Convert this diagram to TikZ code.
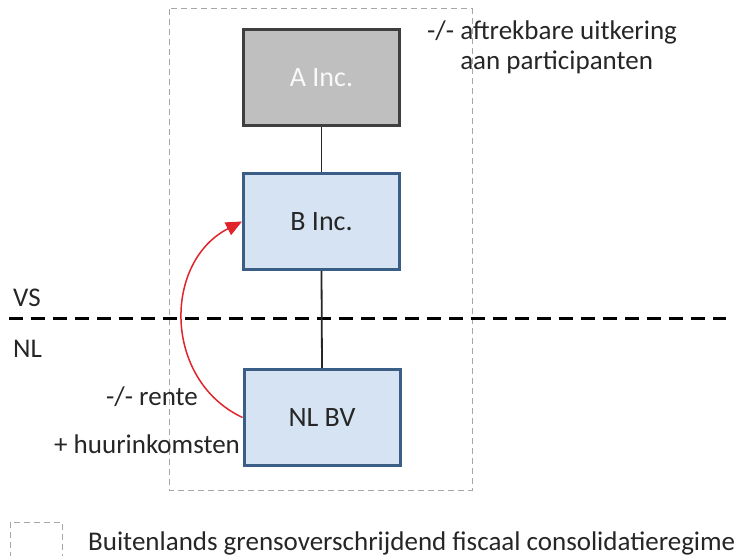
\documentclass[tikz,border=0pt]{standalone}
\usepackage{fontspec}
\setmainfont{Carlito}
\usetikzlibrary{arrows.meta}
\definecolor{txt}{HTML}{262626}
\definecolor{agray}{HTML}{BFBFBF}
\definecolor{aborder}{HTML}{3F3F3F}
\definecolor{bfill}{HTML}{D5E3F3}
\definecolor{bborder}{HTML}{3B5E86}
\definecolor{regred}{HTML}{E0242B}
\definecolor{boxdash}{HTML}{A6A6A6}
\tikzset{
  entity/.style={draw, line width=3pt, minimum width=156pt, minimum height=96pt, inner sep=0pt, font=\fontsize{28}{30}\selectfont, text=txt},
  lbl/.style={font=\fontsize{27}{30}\selectfont, text=txt, inner sep=0pt},
  link/.style={draw=txt, line width=1.8pt},
  regime/.style={draw=boxdash, line width=1pt, dash pattern=on 6pt off 4pt},
  border/.style={draw=black, line width=3pt, dash pattern=on 14pt off 8pt},
}
\begin{document}
\begin{tikzpicture}[x=1pt,y=-1pt]
\useasboundingbox (0,0) rectangle (752,556);
% regime box
\draw[regime] (169,9) rectangle (472,490);
% border
\coordinate (bl) at (9,318);
\coordinate (br) at (726,318);
\draw[border] (bl) -- (br);
% entities
\node[entity, fill=agray, draw=aborder, text=white!95!gray] (A) at (321.5,78) {A Inc.};
\node[entity, fill=bfill, draw=bborder] (B) at (321.5,221.5) {B Inc.};
\node[entity, fill=bfill, draw=bborder] (N) at (322,417.5) {NL BV};
\draw[link] (A.south) -- (B.north);
\draw[link] (B.south) -- (N.north);
% red arrow
\draw[regred, line width=1.5pt, -{Triangle[length=16pt,width=14pt]}] (N.west) .. controls (163,380) and (163,262) .. (B.west);
% labels
\node[lbl, anchor=base west, align=left] (t1) at (427,70) {-/- aftrekbare uitkering\\\phantom{-/- }aan participanten};
\node[lbl, anchor=base west] (vs) at (13,306) {VS};
\node[lbl, anchor=base west] (nl) at (13,357) {NL};
\node[lbl, anchor=base west] (r) at (106,405) {-/- rente};
\node[lbl, anchor=base west] (h) at (54,453) {+ huurinkomsten};
% legend
\draw[regime] (10,522) rectangle (62,560);
\node[lbl, anchor=base west] (leg) at (88,550) {Buitenlands grensoverschrijdend fiscaal consolidatieregime};
\end{tikzpicture}
\end{document}
